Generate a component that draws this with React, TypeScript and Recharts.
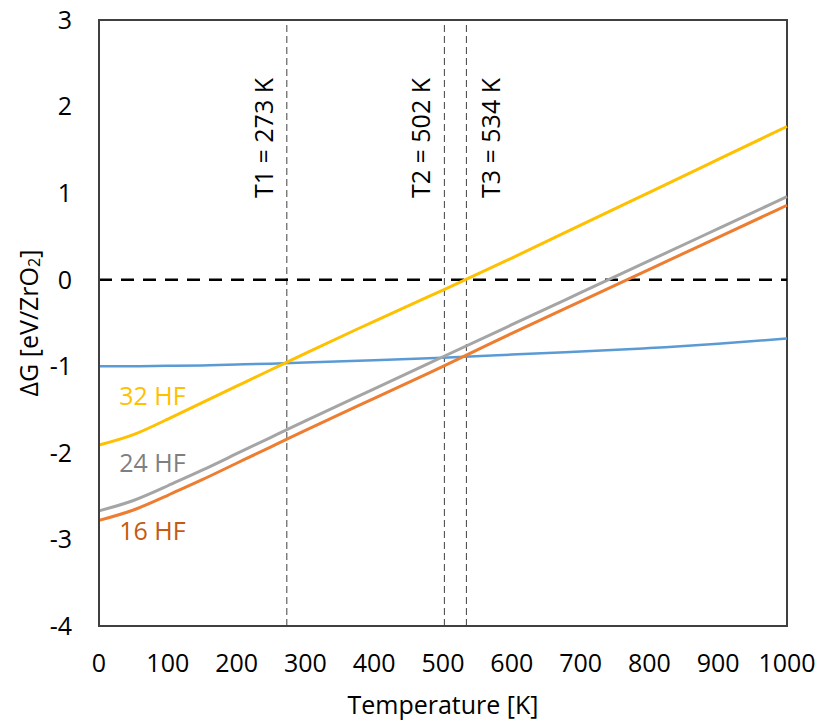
import React from 'react'
import {
  LineChart, Line, XAxis, YAxis, ReferenceLine, ReferenceArea, ReferenceDot,
} from 'recharts'

// temperature grid [K]
const temps = [0, 50, 100, 150, 200, 250, 300, 400, 500, 600, 700, 800, 900, 1000]

// ΔG [eV/ZrO2] per reaction
const blueSeries = [-1.0, -1.0, -0.995, -0.99, -0.98, -0.97, -0.955, -0.93, -0.9, -0.865, -0.83, -0.79, -0.74, -0.68]
const hf32 = [-1.91, -1.79, -1.61, -1.42, -1.23, -1.04, -0.85, -0.48, -0.12, 0.25, 0.63, 1.01, 1.39, 1.77]
const hf24 = [-2.67, -2.55, -2.38, -2.2, -2.01, -1.82, -1.63, -1.26, -0.89, -0.52, -0.15, 0.22, 0.59, 0.96]
const hf16 = [-2.78, -2.66, -2.49, -2.31, -2.12, -1.93, -1.74, -1.37, -1.0, -0.62, -0.25, 0.12, 0.49, 0.86]

const xTicks = [0, 100, 200, 300, 400, 500, 600, 700, 800, 900, 1000]
const yTicks = [-4, -3, -2, -1, 0, 1, 2, 3]

const transitions = [
  { t: 273, label: 'T1 = 273 K', side: -1 },
  { t: 502, label: 'T2 = 502 K', side: -1 },
  { t: 534, label: 'T3 = 534 K', side: 1 },
]

const seriesLabels = [
  { x: 22, y: -1.35, text: '32 HF', color: '#FFC000' },
  { x: 22, y: -2.12, text: '24 HF', color: '#7F7F7F' },
  { x: 22, y: -2.9, text: '16 HF', color: '#C55A11' },
]

const data = temps.map((t, i) => ({
  t,
  base: blueSeries[i],
  hf32: hf32[i],
  hf24: hf24[i],
  hf16: hf16[i],
}))

const FONT = '"Open Sans", sans-serif'
const FS = 25

const TLabel = ({ viewBox, value, side }: any) => {
  const cx = viewBox.x + side * 24
  const cy = 138
  return (
    <text
      x={cx} y={cy}
      transform={`rotate(-90, ${cx}, ${cy})`}
      textAnchor="middle" dominantBaseline="central"
      fontSize={FS} fontFamily={FONT} fill="#000"
    >
      {value}
    </text>
  )
}

const YLabel = ({ viewBox }: any) => {
  const cx = 28
  const cy = viewBox.y + viewBox.height / 2
  return (
    <text
      x={cx} y={cy}
      transform={`rotate(-90, ${cx}, ${cy})`}
      textAnchor="middle" dominantBaseline="central"
      fontSize={FS} fontFamily={FONT} fill="#000"
    >
      ΔG [eV/ZrO<tspan fontSize={16} dy={6}>2</tspan><tspan dy={-6}>]</tspan>
    </text>
  )
}

export default function App() {
  return (
    <div style={{ position: 'absolute', left: 0, top: 0, background: '#fff' }}>
      <LineChart width={822} height={725} data={data} margin={{ top: 20, right: 35, left: 0, bottom: 0 }}>
        <XAxis
          dataKey="t" type="number" domain={[0, 1000]} ticks={xTicks}
          tick={{ fill: '#000', fontSize: FS, fontFamily: FONT }}
          tickSize={0} tickMargin={28} height={99}
          axisLine={{ stroke: '#404040', strokeWidth: 2 }}
          label={{ value: 'Temperature [K]', position: 'insideBottom', offset: 11, fill: '#000', fontSize: FS, fontFamily: FONT }}
        />
        <YAxis
          type="number" domain={[-4, 3]} ticks={yTicks} width={99}
          tick={{ fill: '#000', fontSize: FS, fontFamily: FONT }}
          tickSize={0} tickMargin={27}
          axisLine={{ stroke: '#404040', strokeWidth: 2 }}
          label={<YLabel />}
        />
        <ReferenceArea x1={0} x2={1000} y1={-4} y2={3} fill="none" stroke="#404040" strokeWidth={2} />
        {transitions.map((tr) => (
          <ReferenceLine
            key={tr.t} x={tr.t} stroke="#404040" strokeWidth={1} strokeDasharray="7 4"
            label={<TLabel value={tr.label} side={tr.side} />}
          />
        ))}
        <ReferenceLine y={0} stroke="#000" strokeWidth={2.5} strokeDasharray="13 9" />
        <Line dataKey="base" type="natural" stroke="#5B9BD5" strokeWidth={2.5} dot={false} isAnimationActive={false} />
        <Line dataKey="hf32" type="natural" stroke="#FFC000" strokeWidth={3} dot={false} isAnimationActive={false} />
        <Line dataKey="hf24" type="natural" stroke="#A5A5A5" strokeWidth={3} dot={false} isAnimationActive={false} />
        <Line dataKey="hf16" type="natural" stroke="#ED7D31" strokeWidth={3} dot={false} isAnimationActive={false} />
        {seriesLabels.map((s) => (
          <ReferenceDot
            key={s.text} x={s.x} y={s.y} r={0} stroke="none" fill="none"
            label={{ value: s.text, position: 'right', fill: s.color, fontSize: FS, fontFamily: FONT }}
          />
        ))}
      </LineChart>
    </div>
  )
}
